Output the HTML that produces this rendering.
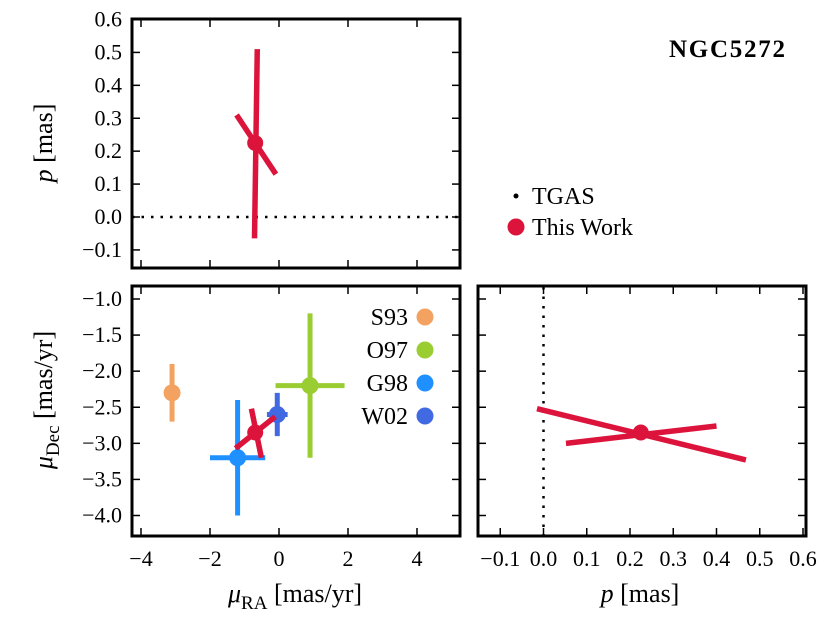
<!DOCTYPE html>
<html><head><meta charset="utf-8"><style>
html,body{margin:0;padding:0;background:#fff}
svg{display:block;font-family:"Liberation Serif",serif}
</style></head><body>
<svg id="c" width="830" height="623" viewBox="0 0 830 623" xmlns="http://www.w3.org/2000/svg"></svg>
<script>
// ---- data ----
const refNames = ["S93","O97","G98","W02"];
const refColors = ["#f4a261","#9acd32","#1e90ff","#4169e1"];
const refX = [-3.1, 0.9, -1.2, -0.05];
const refY = [-2.3, -2.2, -3.2, -2.6];
const refXErr = [0, 1.0, 0.8, 0.3];
const refYErr = [0.4, 1.0, 0.8, 0.3];
const twRA = -0.69, twDec = -2.85, twP = 0.225;
// ellipse-axis segments [x1,y1,x2,y2] in data units
const segRaP = [[-0.63,0.51,-0.71,-0.065],[-1.23,0.31,-0.09,0.13]];
const segRaDec = [[-1.26,-3.07,-0.11,-2.63],[-0.8,-2.52,-0.51,-3.2]];
const segPDec = [[-0.015,-2.52,0.468,-3.23],[0.052,-3.0,0.40,-2.76]];
const raTicks = [-4,-2,0,2,4];
const pTicksY = [-0.1,0.0,0.1,0.2,0.3,0.4,0.5,0.6];
const decTicks = [-1.0,-1.5,-2.0,-2.5,-3.0,-3.5,-4.0];
const pTicksX = [-0.1,0.0,0.1,0.2,0.3,0.4,0.5,0.6];

const svg=document.getElementById('c');
const NS="http://www.w3.org/2000/svg";
function el(t,a,p){const e=document.createElementNS(NS,t);for(const k in a)e.setAttribute(k,a[k]);(p||svg).appendChild(e);return e;}
function lin(d0,d1,p0,p1){return v=>p0+(v-d0)*(p1-p0)/(d1-d0);}
const xRA=lin(0,4,279,417);
const yP=lin(0,0.6,217,19.5);
const yDec=lin(-1,-4,299,515.5);
const xP=lin(0,0.6,543.5,803);
const RED="#dc143c";
const fmt=v=>{const s=Math.abs(v).toFixed(1);return (v<0?"\u2212":"")+s;};

function frame(name,x0,y0,x1,y1,xt,xs,yt,ys,xlab,ylab){
  const g=el('g',{});
  
  
  xt.forEach(v=>{const x=xs(v);
    el('line',{x1:x,x2:x,y1:y1,y2:y1-8,stroke:'#000','stroke-width':1.5},g);
    el('line',{x1:x,x2:x,y1:y0,y2:y0+8,stroke:'#000','stroke-width':1.5},g);
    if(xlab){const t=el('text',{x:x,y:y1+30,'font-size':22,'text-anchor':'middle'},g);t.textContent=xlab(v);
      }
  });
  yt.forEach(v=>{const y=ys(v);
    el('line',{x1:x0,x2:x0+8,y1:y,y2:y,stroke:'#000','stroke-width':1.5},g);
    el('line',{x1:x1,x2:x1-8,y1:y,y2:y,stroke:'#000','stroke-width':1.5},g);
    if(ylab){const t=el('text',{x:x0-10,y:y+7,'font-size':22,'text-anchor':'end'},g);t.textContent=ylab(v);
      }
  });
  el('rect',{x:x0,y:y0,width:x1-x0,height:y1-y0,fill:'none',stroke:'#000','stroke-width':3},g);
  return g;
}
function seg(s,xs,ys,name){const l=el('line',{x1:xs(s[0]),y1:ys(s[1]),x2:xs(s[2]),y2:ys(s[3]),stroke:RED,'stroke-width':5.5});
  }
function dot(x,y,r,c,name){const d=el('circle',{cx:x,cy:y,r:r,fill:c});}

// top-left: RA vs p
el('line',{x1:132,x2:460,y1:yP(0),y2:yP(0),stroke:'#000','stroke-width':2.5,'stroke-dasharray':'2.5,7'});
segRaP.forEach(s=>seg(s,xRA,yP,'this-work-error-axis'));
dot(xRA(twRA),yP(twP),8,RED,'this-work-point-ra-p');
frame('panel-ra-p',132,19,460,268,raTicks,xRA,pTicksY,yP,null,fmt);

// bottom-left: RA vs Dec
refNames.forEach((n,i)=>{
  const x=xRA(refX[i]),y=yDec(refY[i]),c=refColors[i];
  if(refXErr[i]>0)el('line',{x1:xRA(refX[i]-refXErr[i]),x2:xRA(refX[i]+refXErr[i]),y1:y,y2:y,stroke:c,'stroke-width':5});
  el('line',{x1:x,x2:x,y1:yDec(refY[i]-refYErr[i]),y2:yDec(refY[i]+refYErr[i]),stroke:c,'stroke-width':5});
  dot(x,y,8.5,c,'point-'+n.toLowerCase());
});
segRaDec.forEach(s=>seg(s,xRA,yDec,'this-work-error-axis'));
dot(xRA(twRA),yDec(twDec),8,RED,'this-work-point-ra-dec');
frame('panel-ra-dec',132,286,460,536,raTicks,xRA,decTicks,yDec,v=>v===0?"0":fmt(v).replace(".0",""),fmt);
// legend
refNames.forEach((n,i)=>{const y=317+i*33;
  const t=el('text',{x:408,y:y+8,'font-size':24,'text-anchor':'end'});t.textContent=n;
  
  dot(425,y,8.5,refColors[i],'legend-marker-'+n.toLowerCase());
});

// bottom-right: p vs Dec
el('line',{x1:xP(0),x2:xP(0),y1:287,y2:536,stroke:'#000','stroke-width':2.5,'stroke-dasharray':'2.5,7'});
segPDec.forEach(s=>seg(s,xP,yDec,'this-work-error-axis'));
dot(xP(twP),yDec(twDec),8,RED,'this-work-point-p-dec');
frame('panel-p-dec',478,286,806,536,pTicksX,xP,decTicks,yDec,fmt,null);

// labels
function txt(s,a,name){const t=el('text',a);t.innerHTML=s;return t;}
txt('<tspan font-style="italic">p</tspan> [mas]',{x:0,y:0,'font-size':26,'text-anchor':'middle',transform:'translate(52,143) rotate(-90)'},'y-axis-title-p');
txt('<tspan font-style="italic">μ</tspan><tspan font-size="19" dy="7">Dec</tspan><tspan dy="-7"> [mas/yr]</tspan>',{x:0,y:0,'font-size':26,'text-anchor':'middle',transform:'translate(52,400) rotate(-90)'},'y-axis-title-dec');
txt('<tspan font-style="italic">μ</tspan><tspan font-size="19" dy="7">RA</tspan><tspan dy="-7"> [mas/yr]</tspan>',{x:295,y:602,'font-size':26,'text-anchor':'middle'},'x-axis-title-ra');
txt('<tspan font-style="italic">p</tspan> [mas]',{x:640,y:602,'font-size':26,'text-anchor':'middle'},'x-axis-title-p');
txt('NGC5272',{x:727,y:57,'font-size':25,'font-weight':'bold','text-anchor':'middle','textLength':116},'cluster-title');
dot(516,196,2.5,'#000','legend-marker-tgas');
txt('TGAS',{x:532,y:204,'font-size':24},'legend-label-tgas');
dot(516,227,8.5,RED,'legend-marker-this-work');
txt('This Work',{x:532,y:235,'font-size':24},'legend-label-this-work');
</script>
</body></html>
